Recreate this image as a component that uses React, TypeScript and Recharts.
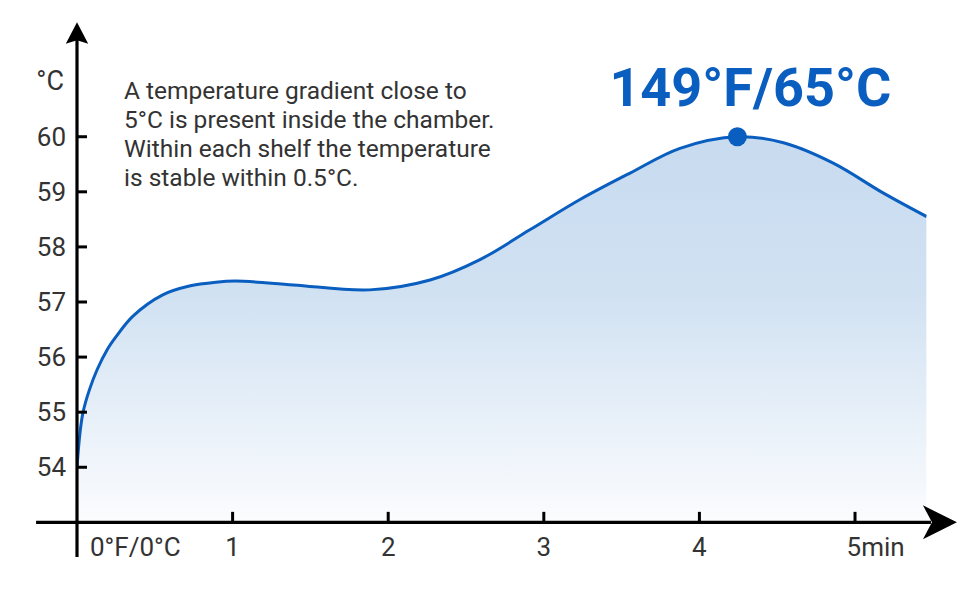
import React from 'react';
import { ComposedChart, Area, XAxis, YAxis, ReferenceLine, ReferenceDot } from 'recharts';

// ---- data ----
const minutes = [0, 0.019, 0.039, 0.079, 0.129, 0.193, 0.251, 0.358, 0.551, 0.722, 0.893, 1.02, 1.39, 1.88, 2.269, 2.59, 2.91, 3.233, 3.554, 3.875, 4.244, 4.54, 4.86, 5.18, 5.46];
const temps = [54.0, 54.62, 55.0, 55.4, 55.77, 56.13, 56.37, 56.74, 57.13, 57.29, 57.36, 57.38, 57.31, 57.22, 57.4, 57.77, 58.31, 58.86, 59.34, 59.79, 60.0, 59.89, 59.52, 58.98, 58.55];

const xTicks = [0, 1, 2, 3, 4, 5];
const xTickLabels = ['0°F/0°C', '1', '2', '3', '4', '5min'];
const yTicks = [54, 55, 56, 57, 58, 59, 60];

const peakMinute = 4.244;
const peakTemp = 60;
const peakLabel = '149°F/65°C';
const unitLabel = '°C';
const noteLines = [
  'A temperature gradient close to',
  '5°C is present inside the chamber.',
  'Within each shelf the temperature',
  'is stable within 0.5°C.',
];

// axis extents (data space)
const X_DOMAIN: [number, number] = [0, 5.46];
const Y_DOMAIN: [number, number] = [53, 62];
const X_AXIS_FROM = -0.263;
const X_AXIS_TO = 5.655;
const Y_AXIS_FROM = 52.37;
const Y_AXIS_TO = 62.08;

const data = minutes.map((m, i) => ({ m, v: temps[i] }));

const FONT = 'Roboto, "Noto Sans", sans-serif';
const BLUE = '#0a5ebf';
const TEXT = '#333333';

// centripetal Catmull-Rom curve factory (d3-shape curve interface)
const smoothCurve = (context: any) => {
  let pts: [number, number][] = [];
  let lineState = NaN;
  const alpha = 0.5;
  const emit = () => {
    const n = pts.length;
    if (!n) return;
    if (lineState) context.lineTo(pts[0][0], pts[0][1]);
    else context.moveTo(pts[0][0], pts[0][1]);
    for (let i = 0; i < n - 1; i++) {
      const p0 = pts[i - 1] || pts[i];
      const p1 = pts[i];
      const p2 = pts[i + 1];
      const p3 = pts[i + 2] || pts[i + 1];
      const d = (a: number[], b: number[]) => Math.hypot(b[0] - a[0], b[1] - a[1]);
      const l01a = Math.pow(d(p0, p1), alpha);
      const l12a = Math.pow(d(p1, p2), alpha);
      const l23a = Math.pow(d(p2, p3), alpha);
      const l01_2a = l01a * l01a;
      const l12_2a = l12a * l12a;
      const l23_2a = l23a * l23a;
      let c1x = p1[0], c1y = p1[1], c2x = p2[0], c2y = p2[1];
      if (l01a > 1e-6) {
        const a = 2 * l01_2a + 3 * l01a * l12a + l12_2a;
        const nn = 3 * l01a * (l01a + l12a);
        c1x = (p1[0] * a - p0[0] * l12_2a + p2[0] * l01_2a) / nn;
        c1y = (p1[1] * a - p0[1] * l12_2a + p2[1] * l01_2a) / nn;
      }
      if (l23a > 1e-6) {
        const b = 2 * l23_2a + 3 * l23a * l12a + l12_2a;
        const m = 3 * l23a * (l23a + l12a);
        c2x = (p2[0] * b + p1[0] * l23_2a - p3[0] * l12_2a) / m;
        c2y = (p2[1] * b + p1[1] * l23_2a - p3[1] * l12_2a) / m;
      }
      context.bezierCurveTo(c1x, c1y, c2x, c2y, p2[0], p2[1]);
    }
  };
  return {
    areaStart() { lineState = 0; },
    areaEnd() { lineState = NaN; },
    lineStart() { pts = []; },
    lineEnd() {
      emit();
      if (lineState || (lineState !== 0 && pts.length === 1)) context.closePath();
      lineState = 1 - lineState;
    },
    point(x: number, y: number) { pts.push([+x, +y]); },
  };
};

const XTick = (props: any) => {
  const { x, y, payload } = props;
  const val = payload.value;
  const label = xTickLabels[xTicks.indexOf(val)];
  let tx = x;
  let anchor: 'start' | 'middle' = 'middle';
  if (val === 0) {
    tx = x + 13;
    anchor = 'start';
  } else if (val === 5) {
    tx = x - 8.5;
    anchor = 'start';
  }
  return (
    <g>
      {val !== 0 && <line x1={x} y1={y} x2={x} y2={y - 10.5} stroke="#000" strokeWidth={3} />}
      <text x={tx} y={y + 33.5} textAnchor={anchor} fontFamily={FONT} fontSize={26} fill={TEXT}>
        {label}
      </text>
    </g>
  );
};

const YTick = (props: any) => {
  const { x, y, payload } = props;
  return (
    <g>
      <line x1={x} y1={y} x2={x + 10} y2={y} stroke="#000" strokeWidth={3} />
      <text x={x - 11} y={y + 9} textAnchor="end" fontFamily={FONT} fontSize={26} fill={TEXT}>
        {payload.value}
      </text>
    </g>
  );
};

const HorizontalArrowAxis = (props: any) => {
  const { x1, y1, x2 } = props;
  const left = Math.min(x1, x2);
  const right = Math.max(x1, x2);
  const y = y1;
  return (
    <g>
      <line x1={left} y1={y} x2={right - 26} y2={y} stroke="#000" strokeWidth={3.2} />
      <path d={`M${right},${y} L${right - 34},${y - 17} L${right - 25},${y} L${right - 34},${y + 17} Z`} fill="#000" />
    </g>
  );
};

const VerticalArrowAxis = (props: any) => {
  const { x1, y1, y2 } = props;
  const top = Math.min(y1, y2);
  const bottom = Math.max(y1, y2);
  const x = x1;
  return (
    <g>
      <line x1={x} y1={top + 17} x2={x} y2={bottom} stroke="#000" strokeWidth={3.2} />
      <path d={`M${x},${top} L${x + 11.2},${top + 21.6} L${x},${top + 18} L${x - 11.2},${top + 21.6} Z`} fill="#000" />
    </g>
  );
};

const PeakLabel = (props: any) => {
  const vb = props.viewBox || {};
  const cx = vb.x + (vb.width || 0) / 2;
  const cy = vb.y + (vb.height || 0) / 2;
  return (
    <text x={cx + 13} y={cy - 31} textAnchor="middle" fontFamily={FONT} fontWeight={700} fontSize={54} fill={BLUE}>
      {peakLabel}
    </text>
  );
};

export default function App() {
  return (
    <div style={{ position: 'absolute', left: 0, top: 0, width: 970, height: 600, background: '#fff' }}>
      <ComposedChart
        width={970}
        height={600}
        data={data}
        margin={{ top: 26.55, right: 43.4, bottom: 47.65, left: 17 }}
      >
        <defs>
          <linearGradient id="fillGrad" x1="0" y1="0" x2="0" y2="1">
            <stop offset="0%" stopColor="#c8dbef" />
            <stop offset="40%" stopColor="#d0e1f2" />
            <stop offset="100%" stopColor="#fbfcfe" />
          </linearGradient>
        </defs>
        <XAxis
          dataKey="m"
          type="number"
          domain={X_DOMAIN}
          ticks={xTicks}
          interval={0}
          allowDataOverflow
          axisLine={false}
          tickLine={false}
          tickSize={0}
          tickMargin={0}
          height={30}
          tick={<XTick />}
        />
        <YAxis
          type="number"
          domain={Y_DOMAIN}
          ticks={yTicks}
          interval={0}
          allowDataOverflow
          axisLine={false}
          tickLine={false}
          tickSize={0}
          tickMargin={0}
          width={60}
          tick={<YTick />}
        />
        <Area
          type={smoothCurve as any}
          dataKey="v"
          stroke={BLUE}
          strokeWidth={3}
          fill="url(#fillGrad)"
          fillOpacity={1}
          baseValue={53}
          dot={false}
          activeDot={false}
          isAnimationActive={false}
        />
        <ReferenceLine
          segment={[{ x: X_AXIS_FROM, y: 53 }, { x: X_AXIS_TO, y: 53 }]}
          ifOverflow="visible"
          shape={HorizontalArrowAxis}
        />
        <ReferenceLine
          segment={[{ x: 0, y: Y_AXIS_FROM }, { x: 0, y: Y_AXIS_TO }]}
          ifOverflow="visible"
          shape={VerticalArrowAxis}
        />
        <ReferenceDot
          x={peakMinute}
          y={peakTemp}
          r={9.5}
          fill={BLUE}
          stroke="none"
          ifOverflow="visible"
          label={<PeakLabel />}
        />
        <text x={64} y={90} textAnchor="end" fontFamily={FONT} fontSize={27} fill={TEXT}>
          {unitLabel}
        </text>
        <text fontFamily={FONT} fontSize={24.5} fill={TEXT}>
          {noteLines.map((line, i) => (
            <tspan key={i} x={124} y={99 + i * 29}>
              {line}
            </tspan>
          ))}
        </text>
      </ComposedChart>
    </div>
  );
}
